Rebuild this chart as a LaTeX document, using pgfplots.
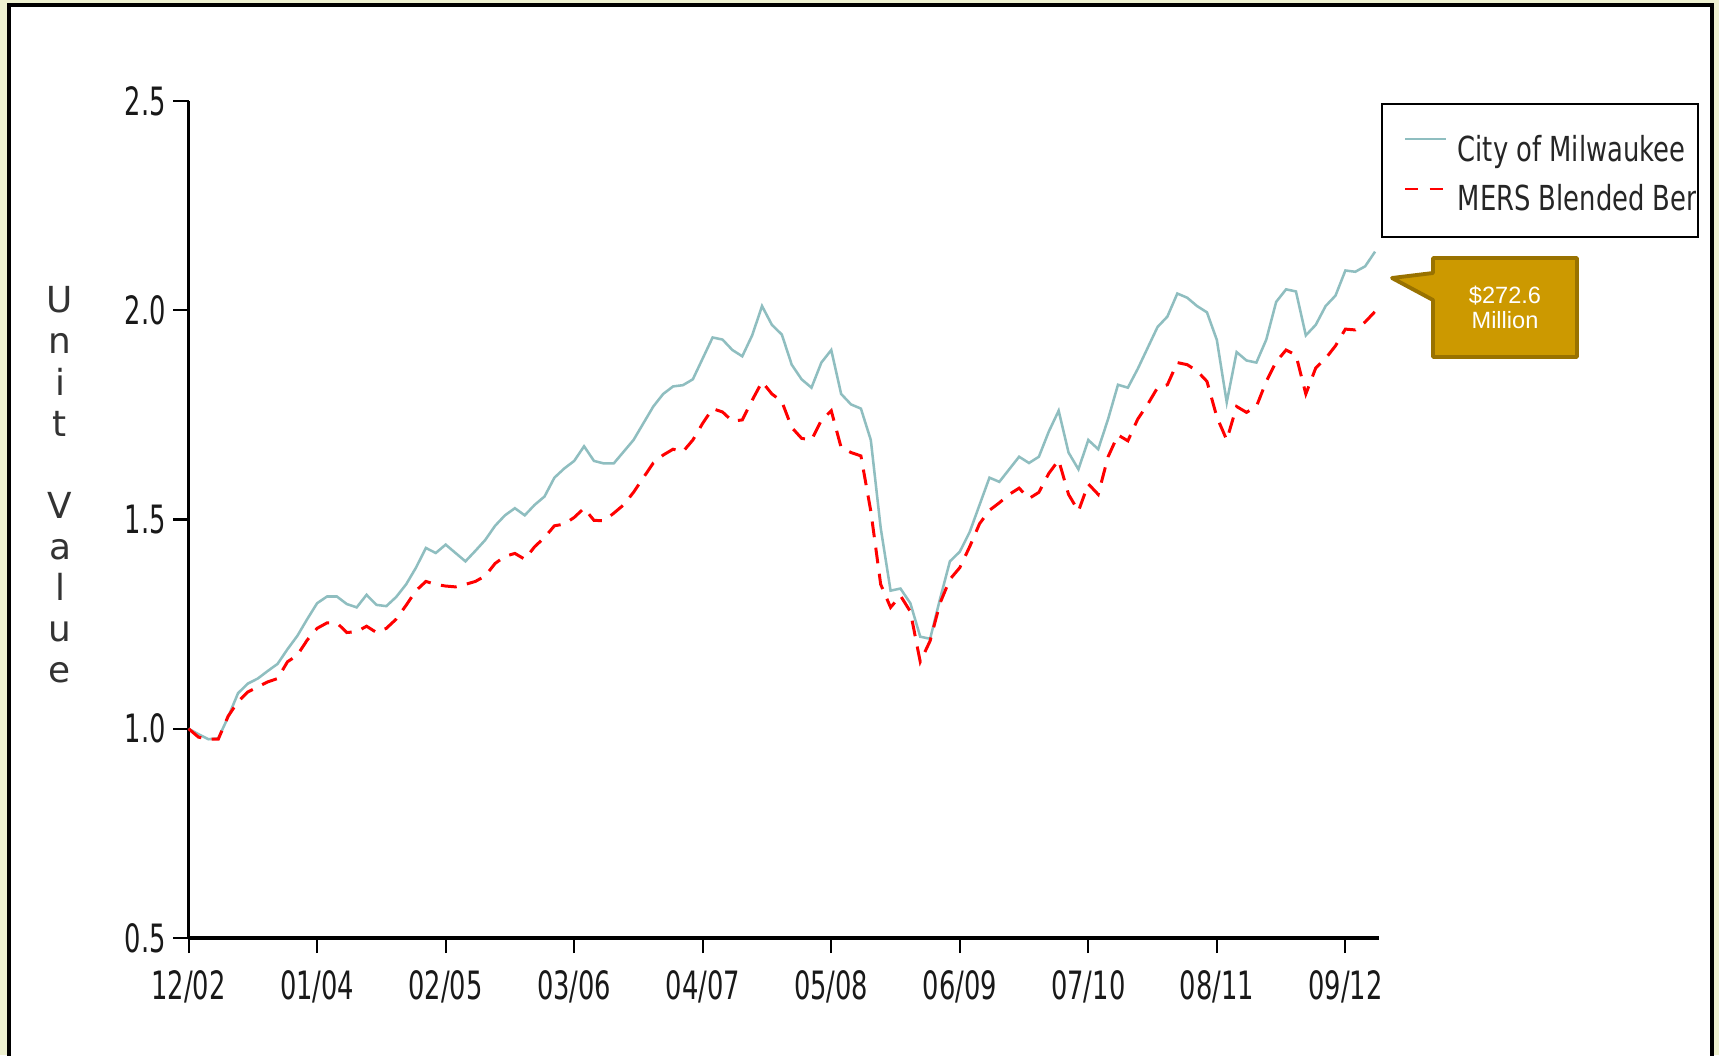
\documentclass[border=0pt]{standalone}
\usepackage{fontspec}
\setmainfont{DejaVu Sans}
\newfontfamily\tickfont[FakeStretch=0.66]{DejaVu Sans}
\newfontfamily\legfont[FakeStretch=0.75]{DejaVu Sans}
\newfontfamily\callfont{Liberation Sans}
\usepackage{pgfplots}
\usepackage{pgfplotstable}
\pgfplotsset{compat=1.18}

\definecolor{milw}{RGB}{143,190,192}
\definecolor{gold}{RGB}{204,153,0}
\definecolor{goldedge}{RGB}{153,114,0}
\definecolor{bgyel}{RGB}{238,241,208}

% month index 0 = 12/02, unit values
\pgfplotstableread{
m city mers
0 1.000 1.000
1 0.987 0.980
2 0.975 0.975
3 0.977 0.975
4 1.028 1.030
5 1.085 1.065
6 1.108 1.088
7 1.120 1.100
8 1.138 1.112
9 1.155 1.120
10 1.190 1.160
11 1.222 1.176
12 1.262 1.212
13 1.300 1.240
14 1.316 1.253
15 1.316 1.253
16 1.298 1.230
17 1.290 1.232
18 1.320 1.245
19 1.296 1.230
20 1.293 1.240
21 1.315 1.262
22 1.345 1.295
23 1.385 1.330
24 1.432 1.352
25 1.420 1.345
26 1.440 1.341
27 1.420 1.339
28 1.400 1.345
29 1.425 1.352
30 1.451 1.365
31 1.485 1.395
32 1.510 1.412
33 1.527 1.419
34 1.510 1.405
35 1.535 1.435
36 1.555 1.457
37 1.600 1.485
38 1.622 1.489
39 1.640 1.505
40 1.675 1.527
41 1.640 1.498
42 1.634 1.497
43 1.634 1.515
44 1.662 1.535
45 1.690 1.565
46 1.730 1.600
47 1.770 1.635
48 1.800 1.654
49 1.818 1.668
50 1.821 1.662
51 1.835 1.690
52 1.885 1.730
53 1.935 1.765
54 1.930 1.757
55 1.905 1.735
56 1.890 1.738
57 1.940 1.785
58 2.010 1.829
59 1.965 1.800
60 1.942 1.782
61 1.870 1.720
62 1.835 1.694
63 1.815 1.690
64 1.875 1.737
65 1.905 1.760
66 1.800 1.672
67 1.775 1.660
68 1.765 1.652
69 1.690 1.520
70 1.480 1.345
71 1.330 1.290
72 1.335 1.318
73 1.300 1.280
74 1.220 1.160
75 1.215 1.210
76 1.310 1.300
77 1.400 1.357
78 1.423 1.385
79 1.470 1.435
80 1.535 1.490
81 1.600 1.522
82 1.590 1.540
83 1.620 1.560
84 1.650 1.575
85 1.635 1.550
86 1.650 1.565
87 1.710 1.610
88 1.760 1.642
89 1.660 1.560
90 1.620 1.520
91 1.690 1.585
92 1.668 1.560
93 1.740 1.650
94 1.822 1.702
95 1.815 1.688
96 1.860 1.740
97 1.910 1.775
98 1.960 1.815
99 1.985 1.822
100 2.040 1.875
101 2.030 1.870
102 2.010 1.855
103 1.995 1.830
104 1.929 1.745
105 1.780 1.690
106 1.900 1.770
107 1.880 1.756
108 1.875 1.770
109 1.930 1.830
110 2.020 1.877
111 2.050 1.905
112 2.045 1.893
113 1.940 1.800
114 1.965 1.862
115 2.010 1.885
116 2.035 1.915
117 2.095 1.955
118 2.092 1.953
119 2.105 1.972
120 2.140 1.997
}\data

\begin{document}
\begin{tikzpicture}[x=1cm,y=1cm]
% slide background and frame
\fill[bgyel] (0,0) rectangle (17.19,10.55);
\fill[white] (0.09,-0.2) rectangle (17.12,10.50);
\draw[black, line width=1.1pt] (0.09,-0.2) -- (0.09,10.50) -- (17.12,10.50) -- (17.12,-0.2);

\begin{axis}[
  at={(1.886cm,1.17cm)}, anchor=south west,
  scale only axis, width=11.904cm, height=8.37cm,
  xmin=0, xmax=120.4, ymin=0.5, ymax=2.5,
  axis lines=left,
  axis line style={-, black, line width=0.65pt},
  x axis line style={line width=0.95pt},
  xtick={0,13,...,117},
  xticklabels={12/02,01/04,02/05,03/06,04/07,05/08,06/09,07/10,08/11,09/12},
  ytick={0.5,1,1.5,2,2.5},
  yticklabels={0.5,1.0,1.5,2.0,2.5},
  tick align=outside, major tick length=4.3pt,
  tick style={black, line width=0.6pt},
  ticklabel style={font=\tickfont\fontsize{11.1}{12}\selectfont, text=black!90},
  xticklabel style={yshift=-1.3pt},
  yticklabel style={xshift=1.3pt},
  clip=false,
]
\addplot[milw, line width=0.72pt] table[x=m, y=city]{\data};
\addplot[red, line width=0.85pt, dash pattern=on 4.5pt off 3pt] table[x=m, y=mers]{\data};
\end{axis}

% stacked y label
\node[align=center, inner sep=0, text=black!80,
  font=\fontsize{10.2}{11.7}\selectfont] at (0.60,5.70)
  {U\\n\\i\\t\\\mbox{}\\V\\a\\l\\u\\e};

% legend
\draw[black, line width=0.75pt, fill=white] (13.82,8.18) rectangle (16.98,9.51);
\draw[milw, line width=0.72pt] (14.05,9.16) -- (14.46,9.16);
\draw[red, line width=0.85pt, dash pattern=on 3.8pt off 3.2pt] (14.05,8.66) -- (14.46,8.66);
\begin{scope}
\clip (13.83,8.19) rectangle (16.95,9.50);
\node[anchor=base west, inner sep=0, text=black!85,
  font=\legfont\fontsize{9.8}{11}\selectfont] at (14.57,8.933) {City of Milwaukee};
\node[anchor=base west, inner sep=0, text=black!85,
  font=\legfont\fontsize{9.8}{11}\selectfont] at (14.57,8.443) {MERS Blended Benchmark};
\end{scope}

% callout
\filldraw[fill=gold, draw=goldedge, line width=1.1pt, line join=round]
  (14.33,7.97) -- (15.77,7.97) -- (15.77,6.98) -- (14.33,6.98) -- (14.33,7.55)
  -- (13.92,7.77) -- (14.33,7.82) -- cycle;
\node[anchor=base, inner sep=0, white, font=\callfont\fontsize{6.7}{7.1}\selectfont]
  at (15.05,7.517) {\$272.6};
\node[anchor=base, inner sep=0, white, font=\callfont\fontsize{6.7}{7.1}\selectfont]
  at (15.05,7.267) {Million};

\pgfresetboundingbox
\useasboundingbox (0,0) rectangle (17.19,10.55);
\end{tikzpicture}
\end{document}
